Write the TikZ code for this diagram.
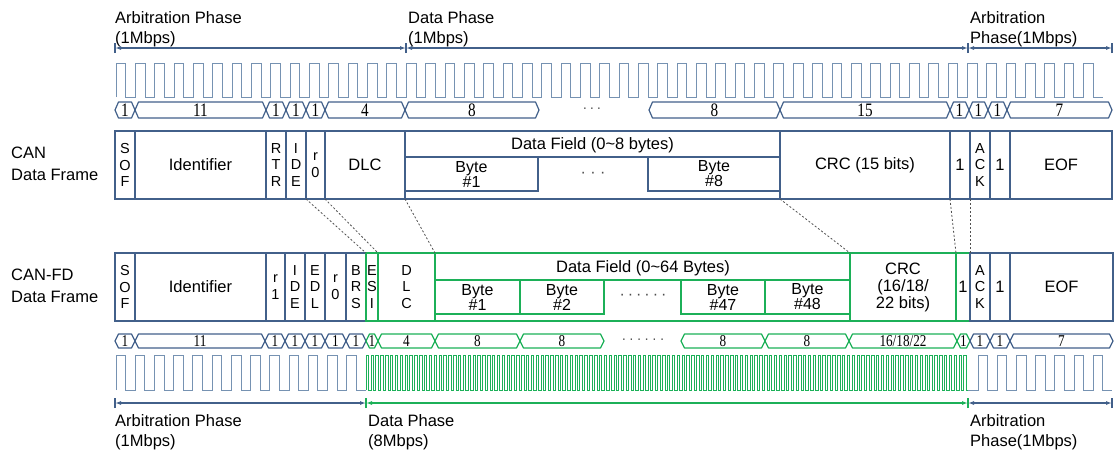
\documentclass[tikz,border=0pt]{standalone}
\usepackage{fontspec}
\usepackage{graphicx}
\setmainfont{Liberation Sans}
\newfontfamily\bitfont{Liberation Serif}
\usetikzlibrary{arrows.meta}

\definecolor{frameBlue}{RGB}{66,96,138}
\definecolor{clockBlue}{RGB}{118,146,178}
\definecolor{fdGreen}{RGB}{28,176,88}
\definecolor{linkGray}{RGB}{80,80,80}

\tikzset{%
  >={Latex[width=4pt,length=6pt]},
  % Specifications for style of the frame fields:
     base/.style = {rectangle, draw=frameBlue, line width=1.4pt, inner sep=0pt,
                    outer sep=0pt, minimum height=68pt, align=center,
                    font=\fontsize{16.5}{17}\selectfont},
     letterStack/.style = {base, font=\fontsize{14.5}{16.5}\selectfont},
     fdField/.style = {base, draw=fdGreen},
     fdStack/.style = {letterStack, draw=fdGreen},
     byteBox/.style = {base, minimum height=34pt, font=\fontsize{16}{15}\selectfont},
     fdByte/.style = {byteBox, draw=fdGreen},
     wide/.style = {minimum width=#1pt},
  % bit counts, clocks and phase markers
     bitShape/.style = {draw=frameBlue, line width=1.2pt, line join=round},
     fdBitShape/.style = {bitShape, draw=fdGreen},
     bitLabel/.style = {inner sep=0pt, font=\bitfont\fontsize{19}{19}\selectfont},
     fdBitLabel/.style = {bitLabel, font=\bitfont\fontsize{16.5}{16.5}\selectfont},
     clockLine/.style = {draw=clockBlue, line width=0.9pt},
     fastClock/.style = {draw=fdGreen, line width=0.7pt},
     phaseLine/.style = {draw=frameBlue, line width=1.1pt, <->},
     fdPhaseLine/.style = {phaseLine, draw=fdGreen},
     phaseTick/.style = {draw=frameBlue, line width=1.1pt},
     phaseLabel/.style = {anchor=north west, inner sep=0pt, align=left,
                          font=\fontsize{16.5}{19.5}\selectfont},
     frameLabel/.style = {anchor=west, inner sep=0pt, align=left,
                          font=\fontsize{16.5}{22}\selectfont},
     dotsLabel/.style = {inner sep=0pt, text=black!70, font=\fontsize{14}{14}\selectfont},
     linkLine/.style = {draw=linkGray, line width=0.8pt, dash pattern=on 2pt off 2pt},
}

\begin{document}
\begin{tikzpicture}[x=1pt, y=-1pt]
  \useasboundingbox (0,0) rectangle (1117,451);

  % Phase labels and markers above the CAN frame
  \node (topArbLabel)    [phaseLabel] at (115,11.5) {Arbitration Phase\\(1Mbps)};
  \node (topDataLabel)   [phaseLabel] at (408,11.5) {Data Phase\\(1Mbps)};
  \node (topArbEndLabel) [phaseLabel] at (970,11.5) {Arbitration\\Phase(1Mbps)};

  \coordinate (topArbStart)  at (115,48);
  \coordinate (topDataStart) at (406,48);
  \coordinate (topArbEnd)    at (968,48);
  \coordinate (topEnd)       at (1112,48);
  \draw[phaseLine] (topArbStart) -- (topDataStart);
  \draw[phaseLine] (topDataStart) -- (topArbEnd);
  \draw[phaseLine] (topArbEnd) -- (topEnd);
  \foreach \c in {topArbStart, topDataStart, topArbEnd, topEnd}
    \draw[phaseTick] ([yshift=-5pt]\c) -- ([yshift=5pt]\c);

  % 1Mbps clock of the CAN frame
  \draw[clockLine] (116,97) \foreach \k in {1,...,51} {
      -- ++(0,-34) -- ++(9.7,0) -- ++(0,34) -- ++(9.65,0) };

  % bit counts of the CAN frame
  \foreach \xa/\xb/\num in {115/135/1, 135/266/11, 266/286/1, 286/306/1, 306/325/1,
      325/405/4, 405/539/8, 649/780/8, 780/950/15, 950/969/1, 969/988/1,
      988/1007/1, 1007/1112/7} {
    \draw[bitShape] (\xa,110) -- (\xa+3.5,102) -- (\xb-3.5,102) -- (\xb,110)
                    -- (\xb-3.5,118) -- (\xa+3.5,118) -- cycle;
    \node (canBit\xa) [bitLabel] at ({(\xa+\xb)/2},110.5) {\scalebox{0.8}[1]{\num}};
  }
  \node (canBitDots) [dotsLabel] at (592,110) {·\,·\,·};

  % Specification of the CAN data frame fields
  \node (canLabel)  [frameLabel] at (11,164) {CAN\\Data Frame};

  \node (canSOF)    [letterStack, wide=20]  at (125,165)   {S\\O\\F};
  \node (canId)     [base, wide=131]        at (200.5,165) {Identifier};
  \node (canRTR)    [letterStack, wide=20]  at (276,165)   {R\\T\\R};
  \node (canIDE)    [letterStack, wide=20]  at (296,165)   {I\\D\\E};
  \node (canR0)     [letterStack, wide=19]  at (315.5,165) {r\\0};
  \node (canDLC)    [base, wide=80]         at (365,165)   {DLC};
  \node (canData)   [base, wide=375]        at (592.5,165) {};
  \node (canCRC)    [base, wide=170]        at (865,165)   {CRC (15 bits)};
  \node (canCrcDel) [base, wide=20]         at (960,165)   {1};
  \node (canACK)    [letterStack, wide=20]  at (980,165)   {A\\C\\K};
  \node (canAckDel) [base, wide=20]         at (1000,165)  {1};
  \node (canEOF)    [base, wide=102]        at (1061,165)  {EOF};

  \node (canDataTitle) [inner sep=0pt, font=\fontsize{16.5}{17}\selectfont]
                       at (592.5,145) {Data Field (0\textasciitilde 8 bytes)};
  \node (canByte1) [byteBox, wide=133] at (471.5,174) {Byte\\\#1};
  \node (canByte8) [byteBox, wide=132] at (714,174)   {Byte\\\#8};
  \node (canByteDots) [dotsLabel, font=\fontsize{16}{16}\selectfont] at (593,175) {· · ·};
  \draw[draw=frameBlue, line width=1.4pt]
       (canData.west |- canByte1.north) -- (canData.east |- canByte1.north);

  % Specification of the CAN-FD data frame fields
  \node (fdLabel)   [frameLabel] at (11,286) {CAN-FD\\Data Frame};

  \node (fdSOF)     [letterStack, wide=20]  at (125,287)   {S\\O\\F};
  \node (fdId)      [base, wide=131]        at (200.5,287) {Identifier};
  \node (fdR1)      [letterStack, wide=19]  at (275.5,287) {r\\1};
  \node (fdIDE)     [letterStack, wide=20]  at (295,287)   {I\\D\\E};
  \node (fdEDL)     [letterStack, wide=20]  at (315,287)   {E\\D\\L};
  \node (fdR0)      [letterStack, wide=21]  at (335.5,287) {r\\0};
  \node (fdBRS)     [letterStack, wide=20]  at (356,287)   {B\\R\\S};
  \node (fdESI)     [fdStack, wide=12]      at (372,287)   {E\\S\\I};
  \node (fdDLC)     [fdStack, wide=57]      at (406.5,287) {D\\L\\C};
  \node (fdData)    [fdField, wide=415]     at (642.5,287) {};
  \node (fdCRC)     [fdField, wide=106]     at (903,287)   {CRC\\(16/18/\\22 bits)};
  \node (fdCrcDel)  [fdField, wide=14]      at (963,287)   {1};
  \node (fdACK)     [letterStack, wide=20]  at (980,287)   {A\\C\\K};
  \node (fdAckDel)  [base, wide=20]         at (1000,287)  {1};
  \node (fdEOF)     [base, wide=103]        at (1061.5,287) {EOF};

  \node (fdDataTitle) [inner sep=0pt, font=\fontsize{16.5}{17}\selectfont]
                      at (643,268) {Data Field (0\textasciitilde 64 Bytes)};
  \node (fdByte1)  [fdByte, wide=85] at (477.5,297) {Byte\\\#1};
  \node (fdByte2)  [fdByte, wide=84] at (562,297)   {Byte\\\#2};
  \node (fdByte47) [fdByte, wide=84] at (723,297)   {Byte\\\#47};
  \node (fdByte48) [fdByte, wide=85] at (807.5,297) {Byte\\\#48};
  \node (fdByteDots) [dotsLabel, font=\fontsize{16}{16}\selectfont]
                     at (643,297) {·\hspace{3pt}·\hspace{3pt}·\hspace{3pt}·\hspace{3pt}·\hspace{3pt}·};
  \draw[draw=fdGreen, line width=1.4pt]
       (fdData.west |- fdByte1.north) -- (fdData.east |- fdByte1.north);

  % dashed lines between the matching field borders
  \draw[linkLine] (canIDE.south east)    -- (fdBRS.north east);
  \draw[linkLine] (canR0.south east)     -- (fdESI.north east);
  \draw[linkLine] (canDLC.south east)    -- (fdDLC.north east);
  \draw[linkLine] (canData.south east)   -- (fdData.north east);
  \draw[linkLine] (canCRC.south east)    -- (fdCRC.north east);
  \draw[linkLine] (canCrcDel.south east) -- (fdCrcDel.north east);

  % bit counts of the CAN-FD frame
  \foreach \xa/\xb/\num/\sty in {115/135/1/bitShape, 135/265/11/bitShape,
      265/285/1/bitShape, 285/305/1/bitShape, 305/325/1/bitShape,
      325/346/1/bitShape, 346/366/1/bitShape, 366/378/1/fdBitShape,
      378/435/4/fdBitShape, 435/520/8/fdBitShape, 520/604/8/fdBitShape,
      681/765/8/fdBitShape, 765/849/8/fdBitShape, 849/957/{16/18/22}/fdBitShape,
      957/970/1/fdBitShape, 970/990/1/bitShape, 990/1010/1/bitShape,
      1010/1113/7/bitShape} {
    \draw[\sty] (\xa,341) -- (\xa+3.5,334) -- (\xb-3.5,334) -- (\xb,341)
                -- (\xb-3.5,348) -- (\xa+3.5,348) -- cycle;
    \node (fdBit\xa) [fdBitLabel] at ({(\xa+\xb)/2},341.5) {\scalebox{0.8}[1]{\num}};
  }
  \node (fdBitDots) [dotsLabel]
        at (643,341) {·\hspace{3pt}·\hspace{3pt}·\hspace{3pt}·\hspace{3pt}·\hspace{3pt}·};

  % clocks of the CAN-FD frame: 1Mbps, 8Mbps, 1Mbps
  \draw[clockLine] (116,390) \foreach \k in {1,...,13} {
      -- ++(0,-35) -- ++(9.6,0) -- ++(0,35) -- ++(9.63,0) };
  \draw[fastClock] (366,390) \foreach \k in {1,...,124} {
      -- ++(0,-35) -- ++(2.43,0) -- ++(0,35) -- ++(2.43,0) };
  \draw[clockLine] (968,390) -- (978,390) \foreach \k in {1,...,7} {
      -- ++(0,-35) -- ++(9.6,0) -- ++(0,35) -- ++(9.6,0) };

  % Phase labels and markers below the CAN-FD frame
  \coordinate (botArbStart)  at (115,403);
  \coordinate (botDataStart) at (366,403);
  \coordinate (botArbEnd)    at (968,403);
  \coordinate (botEnd)       at (1112,403);
  \draw[phaseLine]   (botArbStart) -- (botDataStart);
  \draw[fdPhaseLine] (botDataStart) -- (botArbEnd);
  \draw[phaseLine]   (botArbEnd) -- (botEnd);
  \draw[phaseTick] ([yshift=-5pt]botArbStart) -- ([yshift=5pt]botArbStart);
  \draw[phaseTick, draw=fdGreen] ([yshift=-5pt]botDataStart) -- ([yshift=5pt]botDataStart);
  \draw[phaseTick, draw=fdGreen] ([yshift=-5pt]botArbEnd) -- ([yshift=5pt]botArbEnd);
  \draw[phaseTick] ([yshift=-5pt]botEnd) -- ([yshift=5pt]botEnd);

  \node (botArbLabel)    [phaseLabel] at (115,414.5) {Arbitration Phase\\(1Mbps)};
  \node (botDataLabel)   [phaseLabel] at (368,414.5) {Data Phase\\(8Mbps)};
  \node (botArbEndLabel) [phaseLabel] at (970,414.5) {Arbitration\\Phase(1Mbps)};
\end{tikzpicture}
\end{document}
